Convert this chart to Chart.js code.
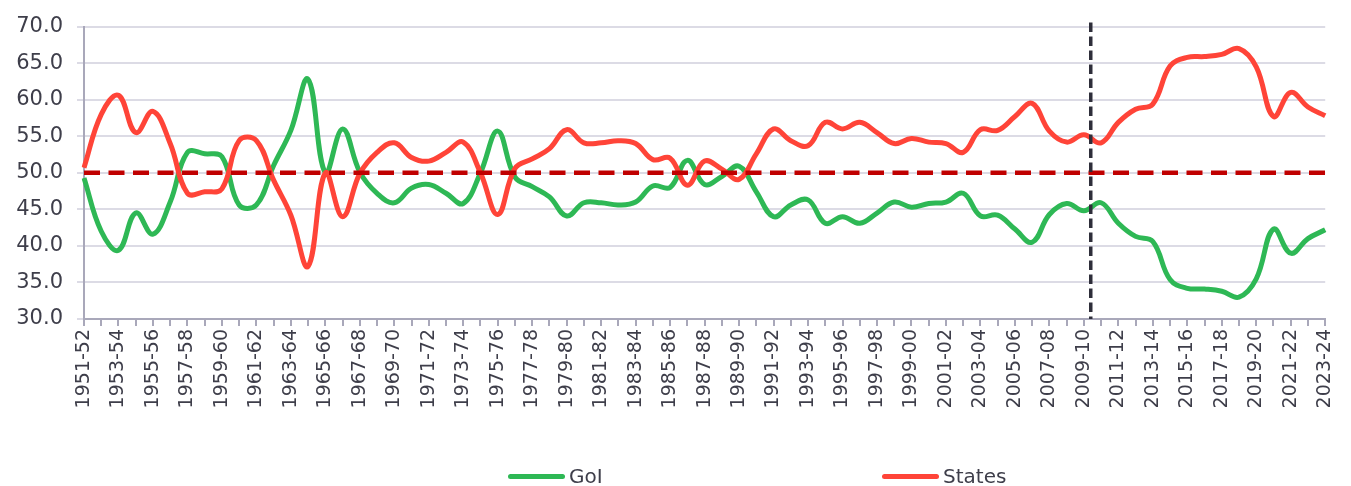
<!DOCTYPE html>
<html>
<head>
<meta charset="utf-8">
<script src="https://cdn.jsdelivr.net/npm/chart.js@4/dist/chart.umd.min.js"></script>
<style>
  html, body { margin: 0; padding: 0; background: #ffffff; }
  #wrap { position: relative; width: 1351px; height: 486px; }
  #chart { position: absolute; left: 0; top: 0; }
  .key { position: absolute; top: 463px; height: 26px; display: flex; align-items: center;
         font-family: "DejaVu Sans", sans-serif; font-size: 20px; color: #3e3e4a; }
  .key i { display: inline-block; width: 57px; height: 5px; border-radius: 3px; margin-right: 4px; }
</style>
</head>
<body>
<div id="wrap">
  <canvas id="chart" width="1351" height="486"></canvas>
  <div class="key" style="left:508px"><i style="background:#2eb855"></i>GoI</div>
  <div class="key" style="left:882px"><i style="background:#ff4438"></i>States</div>
</div>
<script>
// Financial years
const years = [
  '1951-52','1952-53','1953-54','1954-55','1955-56','1956-57','1957-58','1958-59','1959-60','1960-61',
  '1961-62','1962-63','1963-64','1964-65','1965-66','1966-67','1967-68','1968-69','1969-70','1970-71',
  '1971-72','1972-73','1973-74','1974-75','1975-76','1976-77','1977-78','1978-79','1979-80','1980-81',
  '1981-82','1982-83','1983-84','1984-85','1985-86','1986-87','1987-88','1988-89','1989-90','1990-91',
  '1991-92','1992-93','1993-94','1994-95','1995-96','1996-97','1997-98','1998-99','1999-00','2000-01',
  '2001-02','2002-03','2003-04','2004-05','2005-06','2006-07','2007-08','2008-09','2009-10','2010-11',
  '2011-12','2012-13','2013-14','2014-15','2015-16','2016-17','2017-18','2018-19','2019-20','2020-21',
  '2021-22','2022-23','2023-24'
];

// Share of the Government of India (%)
const goiShare = [
  49.3, 42.0, 39.4, 44.5, 41.6, 46.0, 52.8, 52.6, 52.2, 45.6,
  45.6, 51.0, 55.8, 62.8, 50.0, 56.0, 50.1, 47.2, 45.9, 47.9,
  48.4, 47.2, 45.8, 50.0, 55.7, 49.4, 48.1, 46.7, 44.1, 45.9,
  45.9, 45.6, 46.0, 48.2, 48.0, 51.7, 48.4, 49.5, 50.9, 47.4,
  44.0, 45.6, 46.3, 43.1, 44.0, 43.1, 44.5, 46.0, 45.3, 45.8,
  46.0, 47.2, 44.1, 44.2, 42.3, 40.5, 44.3, 45.8, 44.8, 45.9,
  43.1, 41.3, 40.6, 35.4, 34.2, 34.1, 33.8, 33.0, 35.5, 42.3,
  39.0, 41.0, 42.2
];

// Share of the States (%)
const statesShare = [
  50.7, 58.0, 60.6, 55.5, 58.4, 54.0, 47.2, 47.4, 47.8, 54.4,
  54.4, 49.0, 44.2, 37.2, 50.0, 44.0, 49.9, 52.8, 54.1, 52.1,
  51.6, 52.8, 54.2, 50.0, 44.3, 50.6, 51.9, 53.3, 55.9, 54.1,
  54.1, 54.4, 54.0, 51.8, 52.0, 48.3, 51.6, 50.5, 49.1, 52.6,
  56.0, 54.4, 53.7, 56.9, 56.0, 56.9, 55.5, 54.0, 54.7, 54.2,
  54.0, 52.8, 55.9, 55.8, 57.7, 59.5, 55.7, 54.2, 55.2, 54.1,
  56.9, 58.7, 59.4, 64.6, 65.8, 65.9, 66.2, 67.0, 64.5, 57.7,
  61.0, 59.0, 57.8
];

// Y axis range and step
const yMin = 30, yMax = 70, yStep = 5;
// Equal-share reference level
const parityLevel = 50;
// Position of the vertical divider on the year axis
const dividerAt = 58.4;

const guides = {
  id: 'guides',
  afterDatasetsDraw(chart) {
    const { ctx, chartArea, scales: { x, y } } = chart;
    ctx.save();
    // horizontal dashed line at parity
    const yp = y.getPixelForValue(parityLevel);
    ctx.strokeStyle = '#c00000';
    ctx.lineWidth = 4.5;
    ctx.setLineDash([16, 8.5]);
    ctx.beginPath();
    ctx.moveTo(chartArea.left, yp);
    ctx.lineTo(chartArea.right, yp);
    ctx.stroke();
    // vertical dashed divider
    const xp = x.getPixelForValue(dividerAt);
    ctx.strokeStyle = '#2e2e3a';
    ctx.lineWidth = 3.5;
    ctx.setLineDash([9.5, 4.5]);
    ctx.beginPath();
    ctx.moveTo(xp, chartArea.top - 4);
    ctx.lineTo(xp, chartArea.bottom);
    ctx.stroke();
    ctx.restore();
  }
};

new Chart(document.getElementById('chart'), {
  type: 'line',
  data: {
    labels: years,
    datasets: [
      { label: 'GoI', data: goiShare, borderColor: '#2eb855', backgroundColor: '#2eb855',
        borderWidth: 5, pointRadius: 0, tension: 0.4, order: 1 },
      { label: 'States', data: statesShare, borderColor: '#ff4438', backgroundColor: '#ff4438',
        borderWidth: 5, pointRadius: 0, tension: 0.4, order: 0 }
    ]
  },
  options: {
    responsive: false,
    animation: false,
    events: [],
    layout: { padding: { left: 0, right: 10, top: 26, bottom: 40 } },
    plugins: { legend: { display: false }, tooltip: { enabled: false } },
    scales: {
      x: {
        offset: false,
        grid: { drawOnChartArea: false, color: '#a9a8ba', lineWidth: 2, tickLength: 7 },
        border: { color: '#a9a8ba', width: 2 },
        ticks: {
          autoSkip: false, minRotation: 90, maxRotation: 90, padding: 3,
          color: '#3e3e4a', font: { family: 'DejaVu Sans', size: 19 },
          callback: (v, i) => (i % 2 === 0 ? years[i] : '')
        },
        afterFit(scale) { scale.height = 127; }
      },
      y: {
        min: yMin, max: yMax,
        grid: { color: '#dcdbe5', lineWidth: 2, tickLength: 7 },
        border: { color: '#a9a8ba', width: 2 },
        ticks: {
          stepSize: yStep, padding: 14,
          color: '#3e3e4a', font: { family: 'DejaVu Sans', size: 21 },
          callback: v => Number(v).toFixed(1)
        },
        afterFit(scale) { scale.width = 84; }
      }
    }
  },
  plugins: [guides]
});
</script>
</body>
</html>
